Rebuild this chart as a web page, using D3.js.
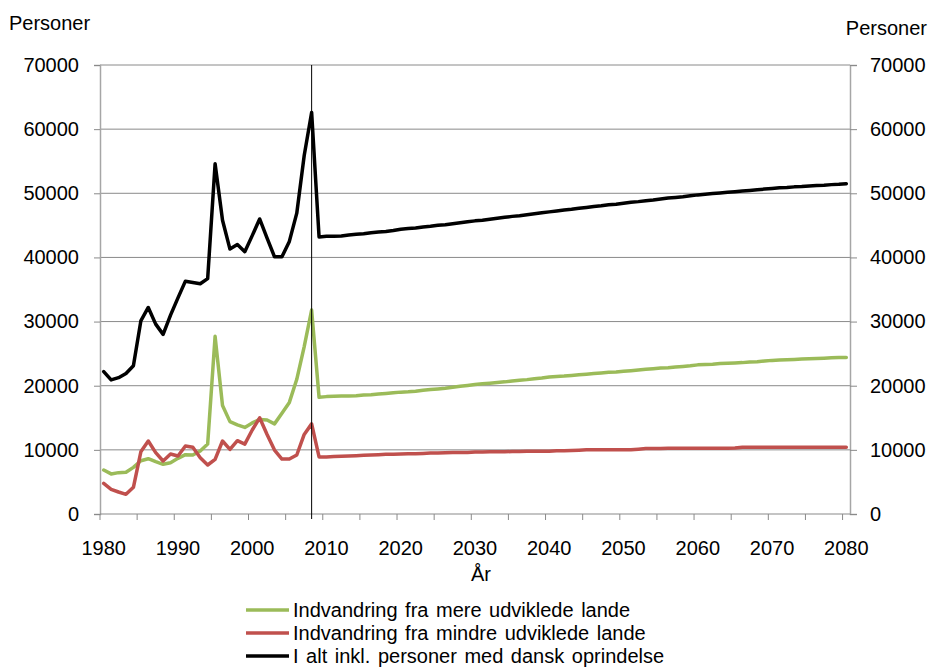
<!DOCTYPE html>
<html>
<head>
<meta charset="utf-8">
<script src="https://cdn.jsdelivr.net/npm/d3@7"></script>
<style>
  html, body { margin: 0; padding: 0; background: #fff; }
  svg { display: block; font-family: "Liberation Sans", Arial, sans-serif; }
</style>
</head>
<body>
<svg id="chart" width="929" height="668"></svg>
<script>
// ---------- DATA ----------
const years = d3.range(1980, 2081);

const seriesNames = [
  "Indvandring fra mere udviklede lande",
  "Indvandring fra mindre udviklede lande",
  "I alt inkl. personer med dansk oprindelse"
];
const seriesColors = ["#9BBB59", "#C0504D", "#000000"];

const mereUdviklede = [
  6860, 6250, 6450, 6500, 7270, 8300, 8620, 8160, 7750, 8000,
  8680, 9250, 9200, 9820, 10900, 27700, 16900, 14400, 13900, 13500,
  14200, 14750, 14650, 14050, 15700, 17400, 21000, 26100, 31800,
  18200, 18300, 18350, 18400, 18400, 18450, 18550, 18600, 18700, 18800,
  18900, 19000, 19050, 19150, 19300, 19400, 19500, 19600, 19750, 19900,
  20050, 20200, 20300, 20400, 20500, 20600, 20750, 20850, 20950, 21100,
  21200, 21350, 21450, 21500, 21600, 21700, 21800, 21900, 22000, 22100,
  22150, 22250, 22350, 22450, 22550, 22650, 22750, 22800, 22900, 23000,
  23100, 23250, 23300, 23350, 23450, 23500, 23550, 23600, 23700, 23750,
  23850, 23950, 24000, 24050, 24100, 24150, 24200, 24250, 24300, 24350,
  24400, 24400
];

const mindreUdviklede = [
  4780, 3850, 3430, 3070, 4160, 9700, 11380, 9560, 8260, 9350,
  9040, 10600, 10400, 8780, 7640, 8520, 11380, 10080, 11430, 10900,
  13100, 15000, 12400, 9970, 8570, 8570, 9200, 12400, 14050,
  8900, 8900, 8950, 9000, 9050, 9100, 9150, 9200, 9250, 9300,
  9300, 9350, 9400, 9400, 9450, 9500, 9500, 9550, 9600, 9600,
  9600, 9650, 9650, 9700, 9700, 9700, 9750, 9750, 9800, 9800,
  9800, 9800, 9850, 9850, 9900, 9950, 10000, 10000, 10000, 10000,
  10000, 10000, 10000, 10100, 10200, 10200, 10200, 10250, 10250, 10250,
  10250, 10250, 10250, 10250, 10250, 10250, 10300, 10400, 10400, 10400,
  10400, 10400, 10400, 10400, 10400, 10400, 10400, 10400, 10400, 10400,
  10400, 10400
];

const iAlt = [
  22200, 20900, 21250, 21900, 23100, 30100, 32200, 29600, 28000, 31000,
  33700, 36300, 36100, 35900, 36700, 54600, 45800, 41300, 42000, 40900,
  43400, 46000, 43000, 40100, 40100, 42500, 46900, 55900, 62600,
  43200, 43300, 43300, 43350, 43500, 43600, 43700, 43850, 43950, 44050,
  44200, 44400, 44500, 44600, 44750, 44850, 45000, 45100, 45250, 45400,
  45550, 45700, 45800, 45950, 46100, 46250, 46400, 46500, 46650, 46800,
  46950, 47100, 47250, 47400, 47500, 47650, 47800, 47950, 48050, 48200,
  48300, 48450, 48600, 48700, 48850, 48950, 49100, 49250, 49350, 49450,
  49600, 49750, 49850, 49950, 50050, 50150, 50250, 50350, 50450, 50550,
  50650, 50750, 50850, 50900, 51000, 51050, 51150, 51200, 51250, 51350,
  51400, 51500
];

const yTicks = [0, 10000, 20000, 30000, 40000, 50000, 60000, 70000];
const xLabelYears = [1980, 1990, 2000, 2010, 2020, 2030, 2040, 2050, 2060, 2070, 2080];
const xTickYears = d3.range(1980, 2081, 5);
const markerYear = 2008;
const yTitle = "Personer";
const xTitle = "År";

// ---------- LAYOUT ----------
const svg = d3.select("#chart");
const L = 100, R = 850, T = 65, B = 514;
const gridColor = "#8a8a8a";
const axisColor = "#a6a6a6";
const fontSize = 20;

const x = d3.scaleBand().domain(years).range([L, R]).padding(0);
const xc = yr => x(yr) + x.bandwidth() / 2;
const y = d3.scaleLinear().domain([0, 70000]).range([B, T]);

// gridlines
svg.append("g").selectAll("line").data(yTicks.filter(d => d > 0)).join("line")
  .attr("x1", L).attr("x2", R)
  .attr("y1", d => y(d)).attr("y2", d => y(d))
  .attr("stroke", gridColor).attr("stroke-width", 1);

// left axis
const leftAxis = d3.axisLeft(y).tickValues(yTicks).tickSize(6).tickPadding(15).tickFormat(d3.format("d"));
const gl = svg.append("g").attr("transform", `translate(${L},0)`).call(leftAxis);
// right axis
const rightAxis = d3.axisRight(y).tickValues(yTicks).tickSize(7).tickPadding(13).tickFormat(d3.format("d"));
const gr = svg.append("g").attr("transform", `translate(${R},0)`).call(rightAxis);

[gl, gr].forEach(g => {
  g.select(".domain").attr("stroke", axisColor).attr("stroke-width", 1.5);
  g.selectAll(".tick line").attr("stroke", gridColor);
  g.selectAll(".tick text").attr("font-size", fontSize).attr("fill", "#000")
    .attr("font-family", "Liberation Sans, Arial, sans-serif");
});

// x axis line
svg.append("line").attr("x1", L).attr("x2", R).attr("y1", B).attr("y2", B)
  .attr("stroke", gridColor).attr("stroke-width", 1.2);
// x tick marks at category boundaries
svg.append("g").selectAll("line").data(xTickYears).join("line")
  .attr("x1", d => x(d)).attr("x2", d => x(d))
  .attr("y1", B).attr("y2", B + 6)
  .attr("stroke", gridColor).attr("stroke-width", 1);
// x labels
svg.append("g").selectAll("text").data(xLabelYears).join("text")
  .attr("x", d => xc(d)).attr("y", 555)
  .attr("text-anchor", "middle").attr("font-size", fontSize)
  .text(d => d);

// titles
svg.append("text").attr("x", 9).attr("y", 30).attr("font-size", fontSize).text(yTitle);
svg.append("text").attr("x", 927).attr("y", 35).attr("text-anchor", "end").attr("font-size", fontSize).text(yTitle);
svg.append("text").attr("x", 481).attr("y", 581).attr("text-anchor", "middle").attr("font-size", fontSize).text(xTitle);

// series lines
const seriesData = [mereUdviklede, mindreUdviklede, iAlt];
const line = d3.line().x((d, i) => xc(years[i])).y(d => y(d));
seriesData.forEach((vals, k) => {
  svg.append("path").datum(vals)
    .attr("d", line)
    .attr("fill", "none")
    .attr("stroke", seriesColors[k])
    .attr("stroke-width", 3.5)
    .attr("stroke-linejoin", "round")
    .attr("stroke-linecap", "round");
});

// vertical marker line
svg.append("line")
  .attr("x1", xc(markerYear)).attr("x2", xc(markerYear))
  .attr("y1", T).attr("y2", B + 5)
  .attr("stroke", "#000").attr("stroke-width", 1);

// legend
const legY = [610, 633, 656];
const lg = svg.append("g");
seriesNames.forEach((name, k) => {
  lg.append("line").attr("x1", 246).attr("x2", 289)
    .attr("y1", legY[k]).attr("y2", legY[k])
    .attr("stroke", seriesColors[k]).attr("stroke-width", 3.5);
  lg.append("text").attr("x", 293).attr("y", legY[k] + 7)
    .attr("font-size", fontSize).attr("word-spacing", 2).text(name);
});
</script>
</body>
</html>
